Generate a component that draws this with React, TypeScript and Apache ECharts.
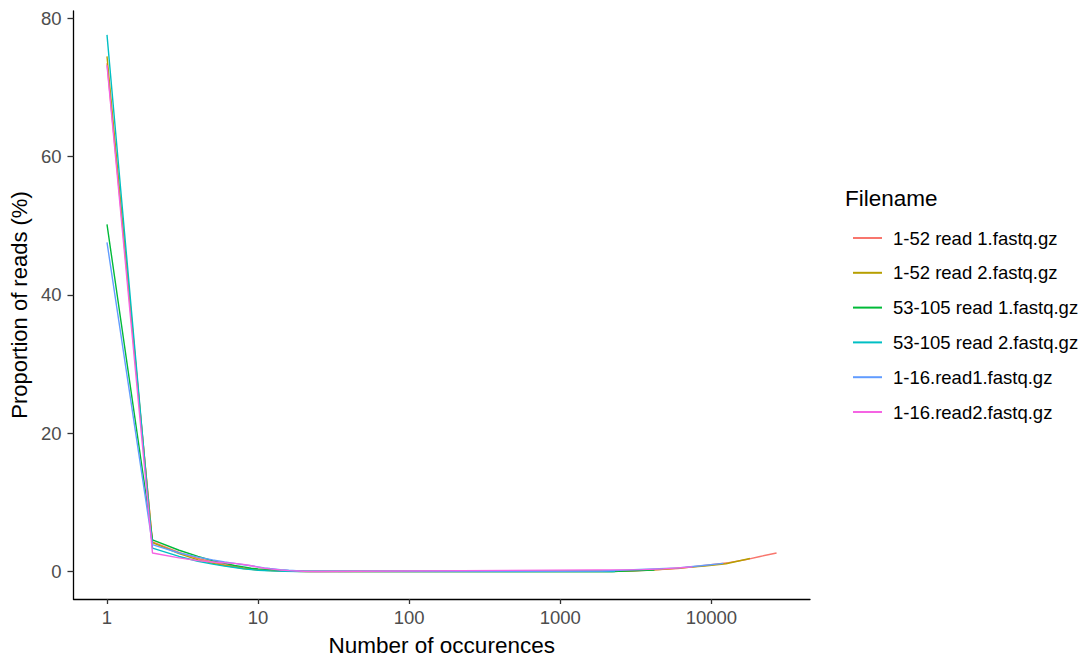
import React, { useEffect, useRef } from "react";
import * as echarts from "echarts";

const seriesNames = [
  "1-52 read 1.fastq.gz",
  "1-52 read 2.fastq.gz",
  "53-105 read 1.fastq.gz",
  "53-105 read 2.fastq.gz",
  "1-16.read1.fastq.gz",
  "1-16.read2.fastq.gz",
];
const colors = ["#F8766D", "#B79F00", "#00BA38", "#00BFC4", "#619CFF", "#F564E3"];

const redX = [1, 2, 3, 4, 5, 6, 7, 8, 9, 10, 11, 12, 13, 15, 18, 22, 500, 3000, 6000, 13000, 17000, 21000, 27000];
const redY = [73.5, 4.3, 2.8, 1.9, 1.4, 1.0, 0.75, 0.55, 0.4, 0.3, 0.25, 0.2, 0.15, 0.1, 0.06, 0.03, 0.05, 0.1, 0.45, 1.3, 1.75, 2.2, 2.7];
const oliveX = [1, 2, 3, 4, 5, 6, 7, 8, 9, 10, 12, 14, 17, 21, 2200, 4500, 9000, 12500, 18000];
const oliveY = [74.5, 4.2, 2.6, 1.7, 1.2, 0.9, 0.65, 0.45, 0.35, 0.25, 0.15, 0.1, 0.05, 0.02, 0.03, 0.3, 0.8, 1.15, 1.9];
const greenX = [1, 2, 3, 4, 5, 6, 7, 8, 9, 10, 12, 14, 17, 20, 25, 2200, 4200];
const greenY = [50.2, 4.6, 3.1, 2.2, 1.6, 1.2, 0.9, 0.7, 0.5, 0.4, 0.3, 0.2, 0.12, 0.08, 0.04, 0.03, 0.25];
const tealX = [1, 2, 3, 4, 5, 6, 7, 8, 9, 10, 12, 15, 19, 2300];
const tealY = [77.6, 3.4, 2.2, 1.5, 1.1, 0.8, 0.6, 0.4, 0.3, 0.2, 0.12, 0.06, 0.03, 0.02];
const blueX = [1, 2, 3, 4, 5, 6, 7, 8, 9, 10, 11, 12, 14, 16, 20, 1000, 1900, 6000, 8500, 12000];
const blueY = [47.6, 3.9, 2.7, 2.1, 1.7, 1.4, 1.2, 1.0, 0.85, 0.7, 0.55, 0.45, 0.3, 0.2, 0.08, 0.05, 0.1, 0.55, 0.85, 1.2];
const pinkX = [1, 2, 3, 4, 5, 6, 7, 8, 9, 10, 11, 12, 14, 16, 20, 25, 3500, 4800, 7500];
const pinkY = [73.2, 2.7, 2.0, 1.6, 1.4, 1.3, 1.2, 1.05, 0.85, 0.65, 0.5, 0.4, 0.25, 0.15, 0.06, 0.02, 0.3, 0.4, 0.7];

const allX = [redX, oliveX, greenX, tealX, blueX, pinkX];
const allY = [redY, oliveY, greenY, tealY, blueY, pinkY];

const xTicks = [1, 10, 100, 1000, 10000];
const yTicks = [0, 20, 40, 60, 80];

const FONT = "'Liberation Sans', Arial, sans-serif";

export default function App() {
  const ref = useRef<HTMLDivElement>(null);
  useEffect(() => {
    document.body.style.margin = "0";
    const chart = echarts.init(ref.current!, null, { renderer: "svg" });
    const series = seriesNames.map((name, i) => ({
      name,
      type: "line",
      data: allX[i].map((x, j) => [x, allY[i][j]]),
      showSymbol: false,
      symbol: "none",
      lineStyle: { width: 1.4, color: colors[i] },
      itemStyle: { color: colors[i] },
      z: 2 + i,
    }));
    chart.setOption({
      animation: false,
      backgroundColor: "#ffffff",
      textStyle: { fontFamily: FONT },
      grid: { left: 73, right: 282, top: 11, bottom: 60, containLabel: false },
      xAxis: {
        type: "log",
        logBase: 10,
        min: 0.6,
        max: 44950,
        name: "Number of occurences",
        nameLocation: "middle",
        nameGap: 35,
        nameTextStyle: { fontSize: 22.5, color: "#000", fontFamily: FONT },
        axisLine: { show: true, onZero: false, lineStyle: { color: "#000", width: 1.3 } },
        axisTick: { show: true, length: 5, customValues: xTicks, lineStyle: { color: "#333", width: 1.3 } },
        axisLabel: {
          customValues: xTicks,
          fontSize: 18.5,
          color: "#4D4D4D",
          margin: 9,
          fontFamily: FONT,
          formatter: (v: number) => String(Math.round(v)),
        },
        splitLine: { show: false },
        minorTick: { show: false },
      },
      yAxis: {
        type: "value",
        min: -3.95,
        max: 81.05,
        name: "Proportion of reads (%)",
        nameLocation: "middle",
        nameGap: 38,
        nameRotate: 90,
        nameTextStyle: { fontSize: 22, color: "#000", fontFamily: FONT },
        axisLine: { show: true, onZero: false, lineStyle: { color: "#000", width: 1.3 } },
        axisTick: { show: true, length: 6, customValues: yTicks, lineStyle: { color: "#333", width: 1.3 } },
        axisLabel: {
          customValues: yTicks,
          fontSize: 18.5,
          color: "#4D4D4D",
          margin: 12,
          fontFamily: FONT,
        },
        splitLine: { show: false },
      },
      legend: {
        orient: "vertical",
        left: 848,
        top: 223,
        itemWidth: 29,
        itemHeight: 2,
        itemGap: 14.8,
        icon: "rect",
        data: seriesNames,
        textStyle: { fontSize: 18.5, lineHeight: 20, color: "#000", fontFamily: FONT, padding: [0, 0, 0, 6] },
        selectedMode: false,
      },
      graphic: [
        {
          type: "text",
          x: 845,
          y: 198,
          style: { text: "Filename", fontSize: 22.5, fill: "#000", fontFamily: FONT, verticalAlign: "middle" },
        },
      ],
      series,
    });
    return () => chart.dispose();
  }, []);
  return <div ref={ref} style={{ width: 1092, height: 662 }} />;
}
